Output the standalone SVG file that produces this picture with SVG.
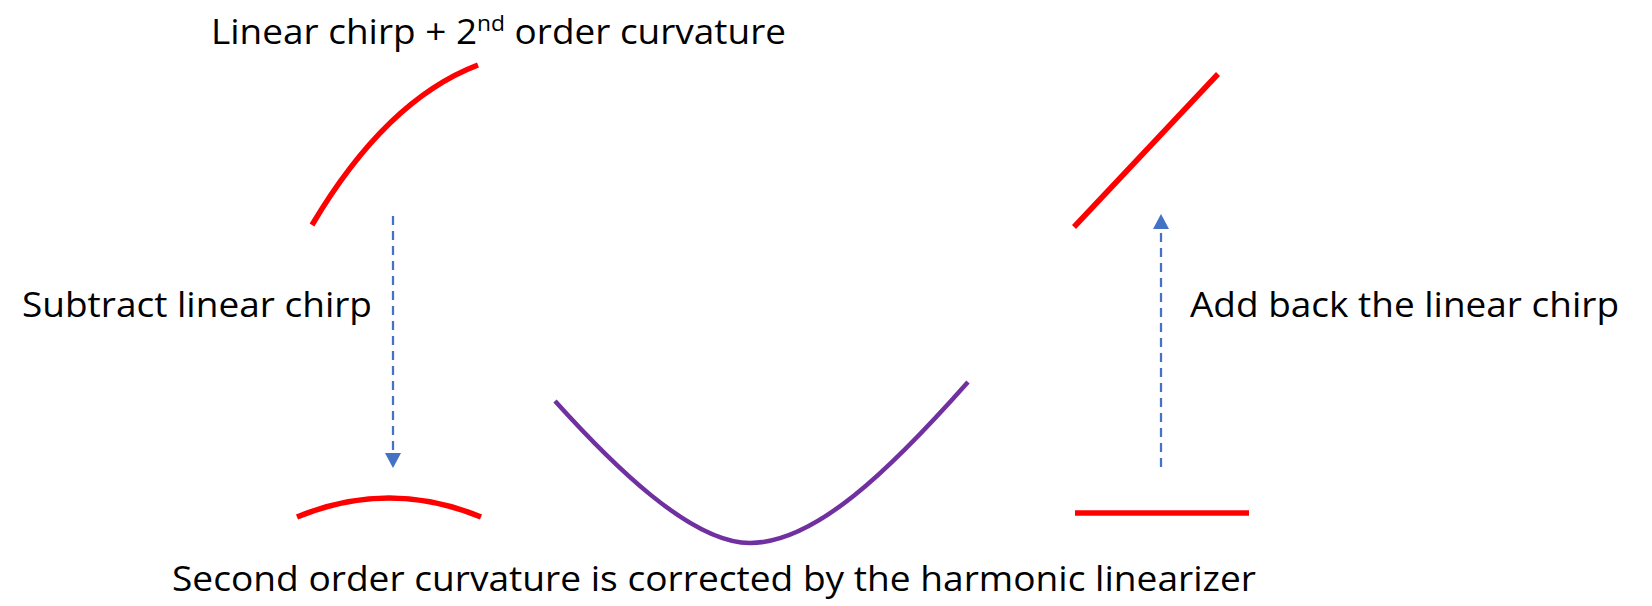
<svg xmlns="http://www.w3.org/2000/svg" width="1652" height="606" viewBox="0 0 1652 606">
<style>
.t{font-family:"Open Sans","Liberation Sans",sans-serif;fill:#000;font-size:34px}
.red{fill:none;stroke:#FF0000;stroke-width:5.5}
.pur{fill:none;stroke:#7030A0;stroke-width:4.5}
.dash{fill:none;stroke:#4472C4;stroke-width:2.25;stroke-dasharray:9 6}
</style>
<defs>
<marker id="ah" markerUnits="userSpaceOnUse" markerWidth="16" markerHeight="16" refX="14" refY="8" orient="auto">
<path d="M0,0 L15,8 L0,16 Z" fill="#4472C4"/>
</marker>
</defs>
<rect width="1652" height="606" fill="#fff"/>
<g id="label-top">
<text class="t" x="211" y="44" textLength="575" lengthAdjust="spacingAndGlyphs">Linear chirp + 2<tspan font-size="21" dy="-13">nd</tspan><tspan dy="13"> order curvature</tspan></text>
</g>
<g id="curve-chirp-curvature">
<path class="red" d="M312,225 Q386,100 478,65"/>
</g>
<g id="label-subtract">
<text class="t" x="22" y="317" textLength="350" lengthAdjust="spacingAndGlyphs">Subtract linear chirp</text>
</g>
<g id="curve-second-order">
<path class="red" d="M297,517 Q389,479 481,517"/>
</g>
<g id="curve-linearizer">
<path class="pur" d="M555,401 C610,462 690,543 750,543 C815,543 890,470 968,382"/>
</g>
<g id="line-chirp">
<path class="red" d="M1074,227 L1218,74"/>
</g>
<g id="line-flat">
<path class="red" d="M1075,513 L1249,513"/>
</g>
<g id="label-add">
<text class="t" x="1190" y="317" textLength="429" lengthAdjust="spacingAndGlyphs">Add back the linear chirp</text>
</g>
<g id="label-bottom">
<text class="t" x="172" y="591" font-size="36" textLength="1084" lengthAdjust="spacingAndGlyphs">Second order curvature is corrected by the harmonic linearizer</text>
</g>
<g id="connectors">
<path class="dash" d="M393,216 L393,467" marker-end="url(#ah)"/>
<path class="dash" d="M1161,467 L1161,215" marker-end="url(#ah)"/>
</g>
</svg>
